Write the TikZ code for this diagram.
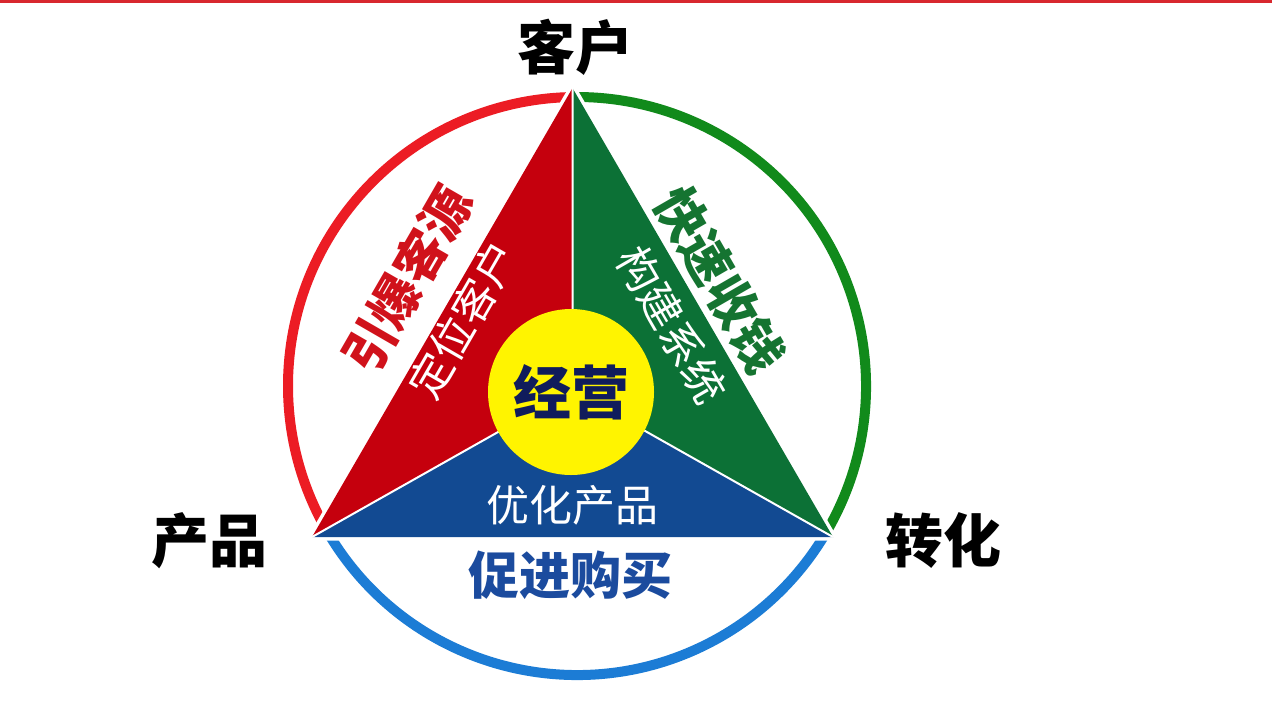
\documentclass[tikz,border=0pt]{standalone}
\usepackage{fontspec}
\setmainfont{Noto Sans CJK SC}
\definecolor{topred}{HTML}{D8282E}
\definecolor{arcred}{HTML}{EC1C24}
\definecolor{arcgreen}{HTML}{118A1B}
\definecolor{arcblue}{HTML}{1C7CD5}
\definecolor{redzone}{HTML}{C5000D}
\definecolor{greenzone}{HTML}{0C7136}
\definecolor{bluezone}{HTML}{124A92}
\definecolor{corefill}{HTML}{FFF400}
\definecolor{txtred}{HTML}{D0121B}
\definecolor{txtgreen}{HTML}{157431}
\definecolor{txtblue}{HTML}{1B4B9E}
\definecolor{navy}{HTML}{101C5C}

\begin{document}
\begin{tikzpicture}[x=1pt,y=-1pt,
  ring/.style={line width=10pt},
  divider/.style={draw=white,line width=2pt},
  big label/.style={font=\fontsize{58}{60}\selectfont\bfseries,inner sep=0pt},
  side label/.style={font=\fontsize{51}{53}\selectfont\bfseries,inner sep=0pt},
  inner label/.style={font=\fontsize{43}{45}\selectfont,text=white,inner sep=0pt},
  ]
  \useasboundingbox (0,0) rectangle (1272,716);
  \fill[topred] (0,0) rectangle (1272,3);
  \coordinate (M) at (577,386);
  \coordinate (A) at (572.5,88);
  \coordinate (L) at (312,537);
  \coordinate (R) at (833,537);
  \coordinate (O) at (572.5,390);
  \draw[ring,arcred] (M) ++(-90:289) arc[start angle=-90,end angle=-210,radius=289];
  \draw[ring,arcblue] (M) ++(-210:289) arc[start angle=-210,end angle=-330,radius=289];
  \draw[ring,arcgreen] (M) ++(-330:289) arc[start angle=-330,end angle=-450,radius=289];
  \draw[white,line width=7pt] (A) -- (L) -- (R) -- cycle;
  \fill[redzone] (A) -- (O) -- (L) -- cycle;
  \fill[greenzone] (A) -- (R) -- (O) -- cycle;
  \fill[bluezone] (L) -- (O) -- (R) -- cycle;
  \draw[divider] (A) -- (O) (L) -- (O) -- (R);
  \node[circle,fill=corefill,minimum size=166pt,inner sep=0pt,
    font=\fontsize{58}{60}\selectfont\bfseries,text=navy] (core) at (571,392) {经营};
  \node[big label] (client) at (575,47) {客户};
  \node[big label] (product) at (209,541) {产品};
  \node[big label] (convert) at (943,541) {转化};
  \node[side label,text=txtred,rotate=60] (leads) at (407,279) {引爆客源};
  \node[inner label,rotate=60] (target) at (463,320) {定位客户};
  \node[side label,text=txtgreen,rotate=-60] (cash) at (720,280) {快速收钱};
  \node[inner label,rotate=-60] (system) at (672,325) {构建系统};
  \node[inner label] (refine) at (572,505) {优化产品};
  \node[side label,text=txtblue] (purchase) at (570,575) {促进购买};
\end{tikzpicture}
\end{document}
